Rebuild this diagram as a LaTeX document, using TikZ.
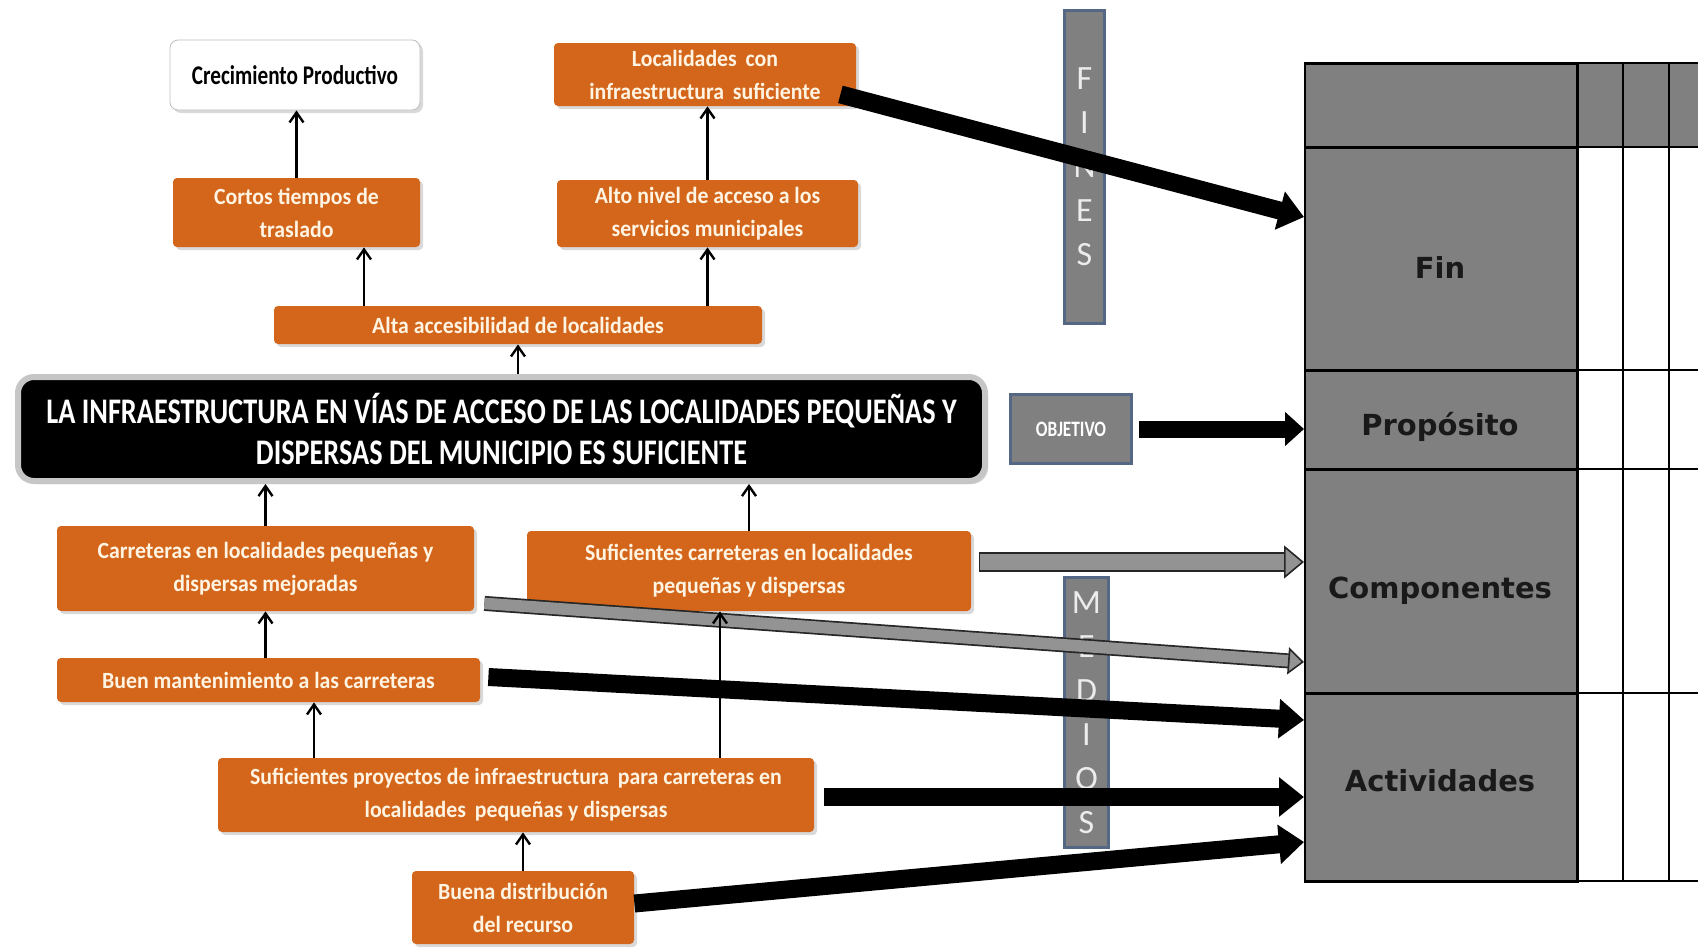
\documentclass[tikz,border=0pt]{standalone}
\usepackage{xcolor}
\usepackage{fontspec}
\usepackage{tikz}
\usetikzlibrary{arrows.meta,shadows}
\setmainfont{Carlito}
\newfontfamily\boxfont[FakeStretch=0.94]{Carlito}
\newfontfamily\titlefont[FakeStretch=0.785]{Carlito}
\newfontfamily\cellfont{DejaVu Sans}
\definecolor{naranja}{RGB}{211,102,27}
\definecolor{crema}{RGB}{255,243,226}
\definecolor{gris}{RGB}{128,128,128}
\definecolor{acero}{RGB}{84,104,134}

\begin{document}
\begin{tikzpicture}[x=0.5pt, y=-0.5pt,
    caja/.style={rectangle, rounded corners=2pt, fill=naranja, text=crema, align=center, inner sep=0pt,
        font=\boxfont\bfseries\fontsize{11.6}{16.5}\selectfont,
        drop shadow={shadow xshift=1.5pt, shadow yshift=-1.5pt, opacity=0.3}},
    barra/.style={rectangle, fill=gris, draw=acero, line width=1.5pt, inner sep=0pt, align=center,
        text=gray!15, font=\fontsize{17}{22}\selectfont},
    celda/.style={rectangle, fill=gris, draw=black, line width=0.8pt, anchor=north west, inner sep=0pt,
        minimum width=136.5pt},
    etiqueta/.style={font=\cellfont\bfseries\fontsize{14.5}{17}\selectfont, text=black!90},
    flecha/.style={line width=1.2pt, -{Straight Barb[length=5pt,width=7pt]}},
    gruesa/.style={line width=9pt, -{Triangle[length=12.5pt,width=19pt]}},
    grisborde/.style={line width=#1, draw=black!85},
    grisflecha/.style={draw=gris!85!white}
]
    \useasboundingbox (0,0) rectangle (1698,948);

    % Table
    \fill[gris] (1577,63) rectangle (1698,147);
    \node[celda, minimum height=42pt] (cab) at (1304,63) {};
    \node[celda, minimum height=111.5pt] (fin) at (1304,147) {};
    \node[celda, minimum height=49.5pt] (prop) at (1304,370) {};
    \node[celda, minimum height=112pt] (comp) at (1304,469) {};
    \node[celda, minimum height=94pt] (act) at (1304,693) {};
    \foreach \x in {1577,1623,1669}
        \draw[line width=0.8pt] (\x,63) -- (\x,881);
    \foreach \y in {63,147,370,469,693,881}
        \draw[line width=0.8pt] (1304,\y) -- (1698,\y);
    \node[etiqueta] (tfin) at (1440,267) {Fin};
    \node[etiqueta] (tprop) at (1440,427) {Propósito};
    \node[etiqueta] (tcomp) at (1440,591) {Componentes};
    \node[etiqueta] (tact) at (1440,781) {Actividades};

    % Side bars
    \node[barra, minimum width=20pt, minimum height=156.5pt] (fines) at (1084.5,167) {F\\I\\N\\E\\S};
    \node[barra, minimum width=22pt, minimum height=135pt] (medios) at (1086.5,712.5) {M\\E\\D\\I\\O\\S};
    \node[barra, minimum width=60.5pt, minimum height=34.5pt, text=white,
        font=\titlefont\bfseries\fontsize{11}{13}\selectfont] (objetivo) at (1071,429) {OBJETIVO};

    % Nodes
    \node[caja, fill=white, draw=gray!50, rounded corners=4pt, text=black, minimum width=125pt, minimum height=35pt,
        font=\titlefont\bfseries\fontsize{13.5}{16}\selectfont] (crec) at (295,75) {Crecimiento Productivo};
    \node[caja, minimum width=151pt, minimum height=31.5pt] (locsuf) at (705,74.5) {Localidades\, con\\infraestructura\, suficiente};
    \node[caja, minimum width=123.5pt, minimum height=34.5pt] (cortos) at (296.5,212.5) {Cortos tiempos de\\traslado};
    \node[caja, minimum width=150.5pt, minimum height=33.5pt] (altonivel) at (707.5,213.5) {Alto nivel de acceso a los\\servicios municipales};
    \node[caja, minimum width=244pt, minimum height=19pt] (altaacc) at (518,325) {Alta accesibilidad de localidades};
    \node[caja, fill=black, draw=gray!45, line width=3pt, rounded corners=8pt, minimum width=483.5pt, minimum height=52pt,
        text=white, font=\titlefont\bfseries\fontsize{18}{20.5}\selectfont] (obj) at (501.5,429)
        {LA INFRAESTRUCTURA EN VÍAS DE ACCESO DE LAS LOCALIDADES PEQUEÑAS Y\\DISPERSAS DEL MUNICIPIO ES SUFICIENTE};
    \node[caja, minimum width=208.5pt, minimum height=42.5pt] (carrmej) at (265.5,568.5) {Carreteras en localidades pequeñas y\\dispersas mejoradas};
    \node[caja, minimum width=222pt, minimum height=40pt] (sufcarr) at (749,571) {Suficientes carreteras en localidades\\pequeñas y dispersas};
    \node[caja, minimum width=211.5pt, minimum height=22pt] (buenmant) at (268.5,680) {Buen mantenimiento a las carreteras};
    \node[caja, minimum width=298pt, minimum height=37pt] (sufproy) at (516,795) {Suficientes proyectos de infraestructura\, para carreteras en\\localidades\, pequeñas y dispersas};
    \node[caja, minimum width=111pt, minimum height=36.5pt] (buenadist) at (523,907.5) {Buena distribución\\del recurso};

    % Grey arrows
    \coordinate (g1) at ([xshift=4pt,yshift=4.5pt]sufcarr.east);
    \draw[grisborde=10pt, shorten >=9.5pt] (g1) -- (g1 -| comp.west);
    \draw[grisflecha, line width=8pt, -{Triangle[length=10pt,width=16.5pt,fill=gris!85!white,color=black!85,line width=0.8pt]}]
        ([xshift=0.5pt]g1) -- (g1 -| comp.west);
    \coordinate (g2) at ([xshift=5pt,yshift=4pt]carrmej.south east);
    \draw[grisborde=7.5pt, shorten >=7.5pt] (g2) -- ([yshift=-96.5pt]comp.north west);
    \draw[grisflecha, line width=5.8pt, -{Triangle[length=8pt,width=13.5pt,fill=gris!85!white,color=black!85,line width=0.8pt]}]
        (g2) -- ([yshift=-96.5pt]comp.north west);

    % Thick arrows
    \draw[gruesa] ([xshift=-8pt,yshift=6pt]locsuf.south east) -- ([yshift=-35pt]fin.north west);
    \draw[gruesa, line width=8.5pt, -{Triangle[length=9.5pt,width=16.5pt]}] ([xshift=3pt]objetivo.east) -- (objetivo.east -| prop.west);
    \draw[gruesa] ([xshift=4pt,yshift=1.5pt]buenmant.east) -- ([yshift=-13.5pt]act.north west);
    \draw[gruesa] ([xshift=5pt,yshift=-1pt]sufproy.east) -- ([yshift=-52pt]act.north west);
    \draw[gruesa] ([yshift=2pt]buenadist.east) -- ([yshift=-74.5pt]act.north west);

    % Edges
    \draw[flecha] (cortos.north) -- (cortos.north |- crec.south);
    \coordinate (p1) at ([xshift=-77pt]altaacc.north);
    \draw[flecha] (p1) -- (p1 |- cortos.south);
    \draw[flecha] (altaacc.north -| altonivel.south) -- (altonivel.south);
    \draw[flecha] (altonivel.north) -- (altonivel.north |- locsuf.south);
    \draw[flecha] (obj.north -| altaacc.south) -- (altaacc.south);
    \draw[flecha] (carrmej.north) -- (carrmej.north |- obj.south);
    \draw[flecha] (sufcarr.north) -- (sufcarr.north |- obj.south);
    \draw[flecha] (buenmant.north -| carrmej.south) -- (carrmej.south);
    \coordinate (p2) at ([xshift=-101pt]sufproy.north);
    \draw[flecha] (p2) -- (p2 |- buenmant.south);
    \coordinate (p3) at ([xshift=102pt]sufproy.north);
    \draw[flecha] (p3) -- (p3 |- sufcarr.south);
    \draw[flecha] (buenadist.north) -- (buenadist.north |- sufproy.south);
\end{tikzpicture}
\end{document}
